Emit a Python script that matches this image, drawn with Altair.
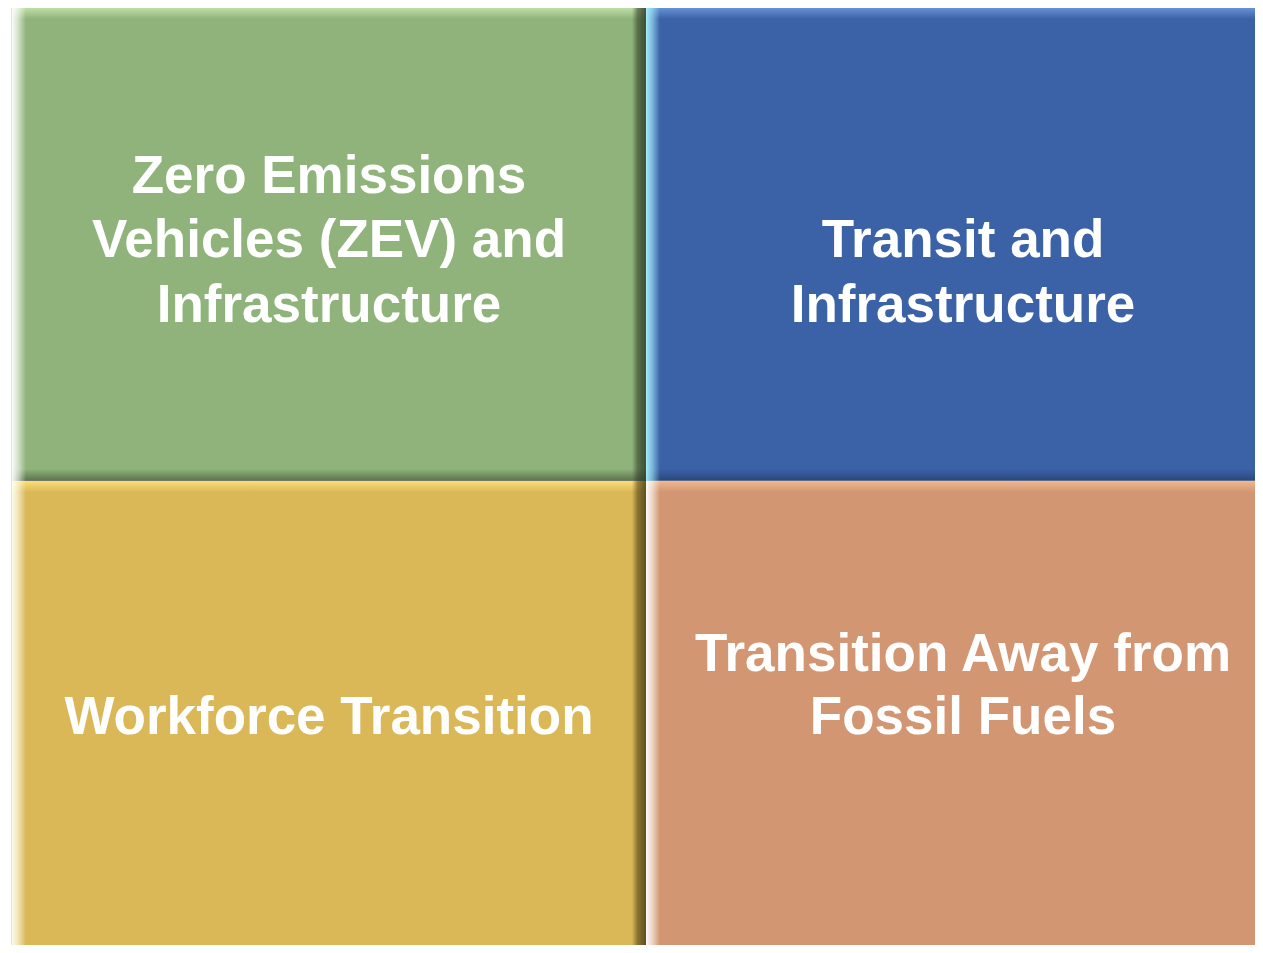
import altair as alt
import pandas as pd

# --- content -------------------------------------------------------------
tile_lines = [
    ["Zero Emissions", "Vehicles (ZEV) and", "Infrastructure"],
    ["Transit and", "Infrastructure"],
    ["Workforce Transition"],
    ["Transition Away from", "Fossil Fuels"],
]
tile_col = [0, 1, 0, 1]
tile_row = [0, 0, 1, 1]
# baseline of each text line, as a fraction of the tile height (from top)
line_pos = [
    [0.396, 0.530, 0.667],
    [0.530, 0.667],
    [0.530],
    [0.398, 0.530],
]

# --- style ---------------------------------------------------------------
tile_fill = ["#8FB37A", "#3B62A7", "#DAB858", "#D29672"]
tile_light = ["#FFFFFF", "#A6F2FF", "#FFFFF2", "#FFFFFF"]
tile_top = ["#C4E3AE", "#6C95DA", "#FFE27A", "#F2BC95"]
tile_dark = ["#2F3A26", "#1C2F52", "#4A3C14", "#5A3A24"]

W, H = 1268, 954

tiles = pd.DataFrame({
    "x0": tile_col,
    "x1": [c + 1 for c in tile_col],
    "y0": tile_row,
    "y1": [r + 1 for r in tile_row],
    "fill": tile_fill,
})

text_rows = []
for i, lines in enumerate(tile_lines):
    for ln, pos in zip(lines, line_pos[i]):
        text_rows.append({"label": ln, "xc": tile_col[i] + 0.5, "yc": tile_row[i] + pos})
texts = pd.DataFrame(text_rows)

xs = alt.Scale(domain=[0, 2], nice=False, zero=False)
ys = alt.Scale(domain=[0, 2], nice=False, zero=False, reverse=True)


def rgba(hexc, a):
    h = hexc.lstrip("#")
    r, g, b = int(h[0:2], 16), int(h[2:4], 16), int(h[4:6], 16)
    return f"rgba({r},{g},{b},{a})"


def grad(c0, a0, c1, a1, horizontal=True, mid=None):
    stops = [alt.GradientStop(offset=0, color=rgba(c0, a0))]
    if mid is not None:
        stops.append(alt.GradientStop(offset=mid[0], color=rgba(mid[1], mid[2])))
    stops.append(alt.GradientStop(offset=1, color=rgba(c1, a1)))
    if horizontal:
        return alt.LinearGradient(gradient="linear", stops=stops, x1=0, x2=1, y1=0, y2=0)
    return alt.LinearGradient(gradient="linear", stops=stops, x1=0, x2=0, y1=0, y2=1)


base = alt.Chart(tiles).mark_rect(stroke="#C8C8C8", strokeWidth=1).encode(
    x=alt.X("x0:Q", scale=xs, axis=None),
    x2="x1:Q",
    y=alt.Y("y0:Q", scale=ys, axis=None),
    y2="y1:Q",
    fill=alt.Fill("fill:N", scale=None),
)

layers = [base]
for i in range(len(tile_fill)):
    d = alt.Chart(tiles.iloc[[i]])
    # top highlight (row 0 top is partly outside the page, so it starts lower)
    top_off = 4 if tile_row[i] == 0 else 0
    layers.append(d.mark_rect(
        fill=grad(tile_top[i], 0.9, tile_top[i], 0.0, horizontal=False),
        yOffset=top_off, y2Offset=11 + top_off,
    ).encode(x=alt.X("x0:Q", scale=xs, axis=None), x2="x1:Q",
             y=alt.Y("y0:Q", scale=ys, axis=None), y2="y0:Q"))
    # bottom shade
    layers.append(d.mark_rect(
        fill=grad(tile_dark[i], 0.0, tile_dark[i], 0.55, horizontal=False),
        yOffset=-12,
    ).encode(x=alt.X("x0:Q", scale=xs, axis=None), x2="x1:Q",
             y=alt.Y("y1:Q", scale=ys, axis=None), y2="y1:Q"))
    # left highlight
    layers.append(d.mark_rect(
        fill=grad(tile_light[i], 0.95, tile_light[i], 0.0, mid=(0.45, tile_light[i], 0.6)),
        x2Offset=14,
    ).encode(x=alt.X("x0:Q", scale=xs, axis=None), x2="x0:Q",
             y=alt.Y("y0:Q", scale=ys, axis=None), y2="y1:Q"))
    # right shade
    layers.append(d.mark_rect(
        fill=grad(tile_dark[i], 0.0, tile_dark[i], 0.85, mid=(0.4, tile_dark[i], 0.55)),
        xOffset=-14,
    ).encode(x=alt.X("x1:Q", scale=xs, axis=None), x2="x1:Q",
             y=alt.Y("y0:Q", scale=ys, axis=None), y2="y1:Q"))

text = alt.Chart(texts).mark_text(
    font="Liberation Sans", fontWeight="bold", fontSize=53,
    color="white", align="center", baseline="alphabetic",
).encode(
    x=alt.X("xc:Q", scale=xs, axis=None),
    y=alt.Y("yc:Q", scale=ys, axis=None),
    text="label:N",
)
layers.append(text)

chart = alt.layer(*layers).properties(
    width=W, height=H,
    padding={"left": 4, "top": -4, "right": -25, "bottom": -13},
    autosize=alt.AutoSizeParams(type="none"),
    background="white",
).configure_view(stroke=None)

chart.save("out.html", embed_options={"renderer": "svg", "actions": False})
